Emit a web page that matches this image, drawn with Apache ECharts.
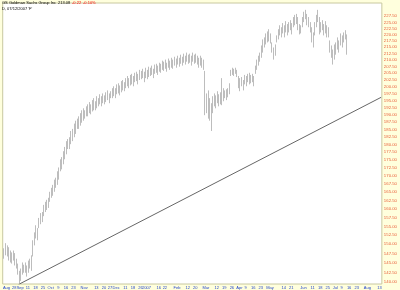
<!DOCTYPE html>
<html><head><meta charset="utf-8">
<script src="https://cdn.jsdelivr.net/npm/echarts@6/dist/echarts.min.js"></script>
<style>html,body{margin:0;padding:0;background:#fff}#c{width:400px;height:290px}</style>
</head><body><div id="c"></div>
<script>
// ---- data ----
const startDate = '2006-08-17';
const dayCount = 249;
const holidays = ['2006-09-04','2006-11-23','2006-12-25','2007-01-01','2007-01-02','2007-01-15','2007-02-19','2007-04-06','2007-05-28','2007-07-04'];
const monthNames = ['2007','Feb','Mar','Apr','May','Jun','Jul','Aug','Sep','Oct','Nov','Dec'];

const highs = [
148.9,150.3,149.7,149.2,148.3,147.8,148.3,147.6,146.1,144.8,
142.9,143.5,145.1,144.5,145.1,144.3,145.6,146.1,147.0,151.1,
153.3,155.3,154.5,157.4,158.8,159.1,161.2,162.1,162.7,163.3,
165.1,166.3,167.2,168.8,169.4,171.4,172.6,175.2,175.9,177.8,
179.2,181.1,181.8,182.4,184.5,185.2,187.0,188.0,188.7,189.5,
190.6,191.6,192.3,191.6,193.0,193.7,194.5,193.7,195.2,195.9,
194.8,196.6,195.9,197.3,196.6,197.6,196.9,198.0,198.7,197.6,
198.4,199.5,200.2,199.5,200.9,201.3,200.5,202.1,202.5,201.7,
203.2,204.0,203.2,204.4,204.8,204.0,205.2,205.6,204.8,206.3,
205.9,206.7,205.6,207.1,206.3,207.5,207.1,207.9,206.7,208.3,
208.6,207.9,209.0,208.6,209.8,209.4,210.2,209.0,210.6,209.8,
210.9,210.2,211.3,210.6,211.7,210.9,212.1,211.3,212.5,211.7,
212.9,212.1,212.5,211.7,212.9,212.1,212.5,211.7,210.9,211.7,
210.9,210.2,205.9,197.6,198.7,195.9,194.1,196.6,197.6,196.9,
198.4,197.3,198.0,203.2,199.5,198.7,199.1,199.5,201.3,206.3,
207.1,206.7,207.1,206.3,204.0,203.2,203.6,202.5,204.4,204.0,
204.8,205.2,204.4,204.8,204.0,207.9,210.2,211.7,212.9,215.7,
218.1,218.9,220.5,221.3,222.2,220.5,216.9,214.9,216.1,219.7,
222.2,223.8,223.0,224.7,223.8,225.5,224.3,225.1,225.9,224.7,
227.2,228.1,228.5,227.2,224.3,223.8,227.2,229.4,230.2,228.5,
227.2,225.1,223.0,220.9,225.1,228.1,230.2,227.2,225.1,225.9,
224.3,225.5,223.8,223.0,217.7,215.7,214.1,216.1,216.9,218.9,
217.7,220.5,219.7,220.9,221.8,220.1
];
const lows = [
146.1,147.0,146.7,145.6,145.1,144.8,145.6,144.3,143.5,141.9,
139.7,140.3,141.9,142.4,142.4,141.4,142.4,143.5,142.9,146.7,
149.7,151.6,151.1,154.5,155.6,156.2,157.9,159.1,159.7,160.3,
162.1,163.3,163.9,165.1,166.3,167.2,168.8,171.4,172.0,173.6,
175.2,176.8,178.5,178.5,180.1,181.1,182.4,183.5,185.2,185.2,
186.3,187.3,188.0,188.7,189.5,189.5,190.6,190.2,191.2,191.6,
191.6,192.3,193.0,193.7,193.0,194.1,193.7,194.5,195.2,194.1,
195.9,195.9,196.6,195.9,197.3,197.6,196.9,198.0,198.7,198.4,
199.5,200.2,199.5,200.5,200.9,200.2,201.7,202.1,200.9,202.5,
202.8,203.2,201.7,203.2,202.8,203.6,204.0,204.4,203.2,204.8,
205.2,204.4,205.6,205.2,206.3,205.9,206.7,205.6,207.1,206.3,
207.1,206.7,207.9,207.1,208.3,207.5,208.6,207.9,209.0,208.3,
209.4,208.6,209.0,207.9,209.4,208.6,209.0,208.3,207.1,207.9,
207.1,206.3,189.9,190.6,188.7,188.0,184.5,190.6,193.0,192.3,
194.1,193.0,193.7,193.4,194.8,195.9,195.2,196.2,197.3,204.0,
204.4,204.0,204.8,203.6,199.5,198.4,200.2,198.7,200.9,200.2,
201.7,200.9,201.3,201.7,200.2,204.8,206.3,207.9,209.4,210.9,
212.9,214.9,216.1,216.9,217.3,216.5,212.9,210.2,211.7,216.9,
218.1,219.7,218.9,220.5,218.9,220.9,219.7,220.9,221.8,220.1,
223.0,223.8,224.3,221.8,220.1,220.5,223.0,225.1,226.3,223.8,
223.0,220.9,216.9,214.9,219.7,223.0,225.1,220.1,220.9,221.8,
219.7,220.5,218.9,218.9,212.9,210.9,208.3,210.2,212.1,214.1,
212.9,215.7,214.9,216.9,218.1,212.1
];
const trendDates = ['2006-08-31','2007-08-14'];
const trendValues = [139.4, 196.2];
const yTicks = [140,142.5,145,147.5,150,152.5,155,157.5,160,162.5,165,167.5,170,172.5,175,177.5,180,182.5,185,187.5,190,192.5,195,197.5,200,202.5,205,207.5,210,212.5,215,217.5,220,222.5,225,227.5];
const headerName = 'GS Goldman Sachs Group Inc';
const headerPrice = '213.08';
const headerChange = '-0.22';
const headerPct = '-0.10%';
const headerSub = 'D, 07/12/2007 \'F\'';

// ---- trading-day categories ----
function pad(n){return (n<10?'0':'')+n;}
const dates = [];
{
  let d = new Date(startDate + 'T12:00:00Z');
  while (dates.length < dayCount) {
    const wd = d.getUTCDay();
    const s = d.getUTCFullYear()+'-'+pad(d.getUTCMonth()+1)+'-'+pad(d.getUTCDate());
    if (wd !== 0 && wd !== 6 && holidays.indexOf(s) < 0) dates.push(s);
    d = new Date(d.getTime() + 86400000);
  }
}
const D = (s) => new Date(s + 'T12:00:00Z');
const DAY = 86400000;
const labelText = {};
{
  const monthIdx = [];
  const weekIdx = [];
  for (let i = 1; i < dates.length; i++) {
    const cur = D(dates[i]), prev = D(dates[i-1]);
    if (cur.getUTCMonth() !== prev.getUTCMonth()) monthIdx.push(i);
    if (cur.getUTCDay() <= prev.getUTCDay() || (cur - prev) > 3 * DAY) weekIdx.push(i);
  }
  monthIdx.unshift(weekIdx[0]);
  monthIdx.forEach(i => { labelText[i] = monthNames[D(dates[i]).getUTCMonth()]; });
  weekIdx.forEach(i => {
    if (labelText[i] !== undefined) return;
    const t = D(dates[i]).getTime();
    const clash = monthIdx.some(m => {
      const dd = Math.round((t - D(dates[m]).getTime()) / DAY);
      return (dd > 0 && dd < 7) || (dd < 0 && dd >= -3);
    });
    if (!clash) labelText[i] = String(D(dates[i]).getUTCDate());
  });
}

const barData = lows.map((lo, i) => [i, lo, highs[i]]);
const trendData = trendDates.map((d, k) => [d, trendValues[k]]);

const FF = '"Liberation Sans", Arial, sans-serif';
const font = (sz) => sz + 'px ' + FF;
const chart = echarts.init(document.getElementById('c'), null, {renderer: 'canvas'});
chart.setOption({
  animation: false,
  backgroundColor: '#FFFFDD',
  grid: {
    left: 2, right: 14, top: 3, bottom: 6,
    show: true, backgroundColor: '#ffffff', borderColor: '#C8C8A0', borderWidth: 1
  },
  graphic: [
    {type: 'text', left: 2, top: 1, z: 100, style: {text: headerName, font: font(4), fill: '#000'}},
    {type: 'text', left: 58, top: 1, z: 100, style: {text: headerPrice, font: font(4), fill: '#000'}},
    {type: 'text', left: 72, top: 1, z: 100, style: {text: headerChange, font: font(4), fill: '#ff0000'}},
    {type: 'text', left: 83, top: 1, z: 100, style: {text: headerPct, font: font(4), fill: '#ff0000'}},
    {type: 'text', left: 2, top: 6.5, z: 100, style: {text: headerSub, font: font(4), fill: '#000'}}
  ],
  xAxis: {
    type: 'category', data: dates, boundaryGap: true,
    axisLine: {show: false}, axisTick: {show: false}, splitLine: {show: false},
    axisLabel: {
      interval: (idx) => labelText[idx] !== undefined,
      formatter: (v, idx) => labelText[idx] || '',
      fontSize: 4, color: '#2244CC', margin: 1.5,
      fontFamily: FF, hideOverlap: false
    }
  },
  yAxis: {
    type: 'log', position: 'right', min: 139.5, max: 233.1,
    axisLine: {show: false}, axisTick: {show: false}, splitLine: {show: false},
    axisLabel: {
      customValues: yTicks,
      formatter: (v) => Number(v).toFixed(2),
      fontSize: 4.3, color: '#E8603C', margin: 2, fontFamily: FF
    }
  },
  series: [
    {
      type: 'custom', data: barData, encode: {x: 0, y: [1, 2]},
      renderItem: (params, api) => {
        const a = api.coord([api.value(0), api.value(1)]);
        const b = api.coord([api.value(0), api.value(2)]);
        const x = Math.round(a[0]) + 0.5;
        return {type: 'line', shape: {x1: x, y1: a[1], x2: x, y2: b[1]},
          style: {stroke: '#bdbdbd', lineWidth: 1}};
      }
    },
    {
      type: 'line', data: trendData, clip: true,
      symbol: 'none', lineStyle: {color: '#666', width: 1}, silent: true, z: 1
    }
  ]
});
</script></body></html>
